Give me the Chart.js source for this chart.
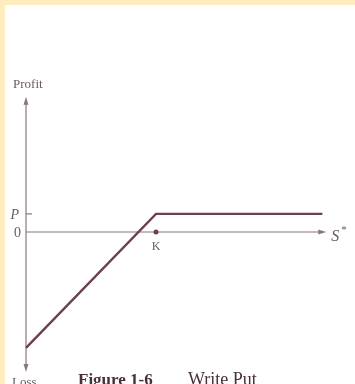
<!DOCTYPE html>
<html>
<head>
<meta charset="utf-8">
<script src="https://cdn.jsdelivr.net/npm/chart.js@4.4.1/dist/chart.umd.min.js"></script>
<style>
    html, body { margin: 0; padding: 0; background: #fff; }
    #wrap { width: 355px; height: 384px; position: relative; }
</style>
</head>
<body>
<div id="wrap"><canvas id="payoff" width="355" height="384"></canvas></div>
<script>
/* ================= DATA ================= */
const strike = 100;
const premium = 13.5;
const spot = [0, strike, 228];          // S* at the ends and at the kink
const profit = [-86.5, premium, premium];
const xArrowTip = 231;
const yArrowTop = 101;
const yArrowBottom = -104.5;

const ink = "#6e3f50";
const axisInk = "#8c7584";
const textInk = "#6a5a62";

/* ================= AXES, ARROWS, LABELS ================= */
function arrow(ctx, x, y, dir) {
    ctx.beginPath();
    if (dir === "up") {
        ctx.moveTo(x, y); ctx.lineTo(x - 2.5, y + 8); ctx.lineTo(x + 2.5, y + 8);
    } else if (dir === "down") {
        ctx.moveTo(x, y); ctx.lineTo(x - 2.5, y - 8); ctx.lineTo(x + 2.5, y - 8);
    } else {
        ctx.moveTo(x, y); ctx.lineTo(x - 8, y - 2.5); ctx.lineTo(x - 8, y + 2.5);
    }
    ctx.closePath();
    ctx.fill();
}

const axesPlugin = {
    id: "axesPlugin",
    beforeDraw(chart) {
        const ctx = chart.ctx;
        const xs = chart.scales.x, ys = chart.scales.y;
        const x0 = xs.getPixelForValue(0);
        const y0 = ys.getPixelForValue(0);
        const yTop = ys.getPixelForValue(yArrowTop);
        const yBot = ys.getPixelForValue(yArrowBottom);
        const xTip = xs.getPixelForValue(xArrowTip);
        const yP = ys.getPixelForValue(premium);

        ctx.save();
        // page border
        ctx.fillStyle = "#ffedc0";
        ctx.fillRect(0, 0, chart.width, 5);
        ctx.fillRect(0, 0, 5, chart.height);

        ctx.strokeStyle = axisInk;
        ctx.fillStyle = axisInk;
        ctx.lineWidth = 1.2;

        // vertical axis
        ctx.beginPath();
        ctx.moveTo(x0, yTop + 4);
        ctx.lineTo(x0, yBot - 4);
        ctx.stroke();
        arrow(ctx, x0, yTop, "up");
        arrow(ctx, x0, yBot, "down");

        // horizontal axis
        ctx.beginPath();
        ctx.moveTo(x0, y0);
        ctx.lineTo(xTip - 4, y0);
        ctx.stroke();
        arrow(ctx, xTip, y0, "right");

        // premium tick
        ctx.beginPath();
        ctx.moveTo(x0, yP);
        ctx.lineTo(x0 + 6, yP);
        ctx.stroke();
        ctx.restore();
    },
    afterDraw(chart) {
        const ctx = chart.ctx;
        const xs = chart.scales.x, ys = chart.scales.y;
        const x0 = xs.getPixelForValue(0);
        const y0 = ys.getPixelForValue(0);
        const yP = ys.getPixelForValue(premium);
        const xK = xs.getPixelForValue(strike);
        const xTip = xs.getPixelForValue(xArrowTip);

        ctx.save();
        ctx.fillStyle = textInk;
        ctx.textBaseline = "alphabetic";

        ctx.font = "13px 'Liberation Serif', serif";
        ctx.textAlign = "left";
        ctx.fillText("Profit", 13, 88);

        ctx.font = "italic 14px 'Liberation Serif', serif";
        ctx.textAlign = "right";
        ctx.fillText("P", x0 - 7, yP + 5);
        ctx.font = "14px 'Liberation Serif', serif";
        ctx.fillText("0", x0 - 5, y0 + 5);

        ctx.font = "12px 'Liberation Serif', serif";
        ctx.textAlign = "center";
        ctx.fillText("K", xK, y0 + 18);

        ctx.font = "italic 16px 'Liberation Serif', serif";
        ctx.textAlign = "left";
        ctx.fillText("S", xTip + 5, y0 + 9);
        ctx.font = "11px 'Liberation Serif', serif";
        ctx.fillText("*", xTip + 15, y0 + 1);

        ctx.font = "13px 'Liberation Serif', serif";
        ctx.fillText("Loss", 12, 386);

        ctx.fillStyle = "#4a3038";
        ctx.font = "bold 17px 'Liberation Serif', serif";
        ctx.fillText("Figure 1-6", 78, 385);
        ctx.font = "18px 'Liberation Serif', serif";
        ctx.fillText("Write Put", 188, 385);
        ctx.restore();
    }
};

/* ================= CHART ================= */
new Chart(document.getElementById("payoff"), {
    type: "scatter",
    data: {
        datasets: [
            {
                data: spot.map((s, i) => ({ x: s, y: profit[i] })),
                showLine: true,
                borderColor: ink,
                borderWidth: 2.4,
                pointRadius: 0,
                tension: 0,
                clip: false
            },
            {
                data: [{ x: strike, y: 0 }],
                pointRadius: 2.5,
                pointBackgroundColor: ink,
                pointBorderWidth: 0
            }
        ]
    },
    options: {
        responsive: false,
        animation: false,
        events: [],
        layout: { padding: { left: 26, right: 17, top: 96.7, bottom: 12 } },
        plugins: { legend: { display: false }, tooltip: { enabled: false } },
        scales: {
            x: { type: "linear", min: 0, max: 240, display: false },
            y: { type: "linear", min: yArrowBottom, max: yArrowTop, display: false }
        }
    },
    plugins: [axesPlugin]
});
</script>
</body>
</html>
